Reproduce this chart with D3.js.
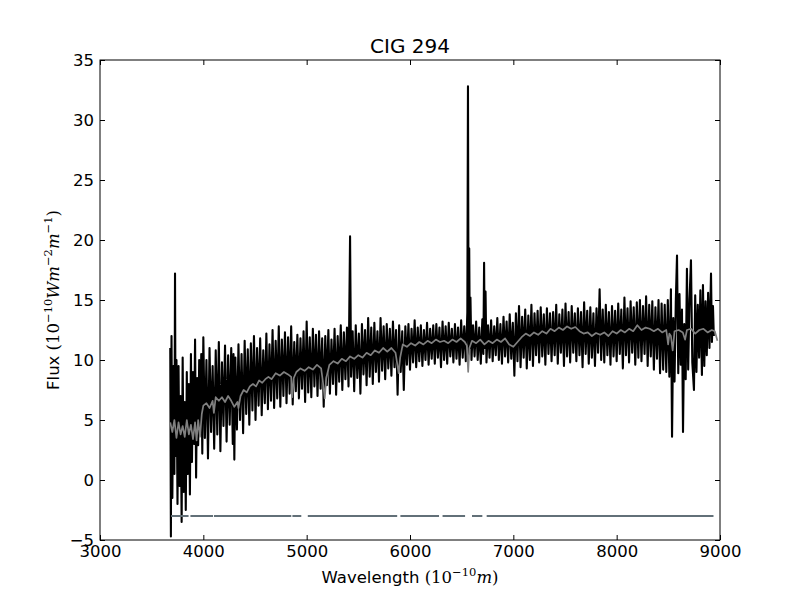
<!DOCTYPE html>
<html>
<head>
<meta charset="utf-8">
<script src="https://cdn.jsdelivr.net/npm/d3@7/dist/d3.min.js"></script>
<style>
  body { margin: 0; background: #fff; }
  svg text { font-family: "DejaVu Sans", sans-serif; }
  .math { font-family: "DejaVu Serif", serif; }
</style>
</head>
<body>
<div id="chart"></div>
<script>
// Observed spectrum, [wavelength, flux]
var spectrum = [
  [3680, 11.0], [3686, -4.7], [3692, 12.0], [3700, -1.5], [3710, 9.5], [3720, 0.5],
  [3726, 17.2], [3732, 2.0], [3740, 10.0], [3750, -2.0], [3760, 9.5], [3770, -0.5],
  [3780, 7.0], [3790, -3.5], [3800, 10.2], [3810, -1.0], [3820, 6.5], [3830, -2.5],
  [3840, 9.0], [3850, 0.5], [3860, 8.0], [3870, -1.2], [3880, 10.5], [3890, 1.5],
  [3900, 9.0], [3910, 3.0], [3920, 11.7], [3930, 0.2], [3940, 8.5], [3950, 2.9],
  [3960, 10.0], [3970, 4.0], [3980, 10.5], [3990, 2.2], [4000, 11.9], [4015, 3.5],
  [4030, 10.0], [4045, 1.8], [4060, 11.0], [4075, 4.0], [4090, 9.5], [4105, 2.6],
  [4120, 10.8], [4135, 3.8], [4150, 11.5], [4165, 2.4], [4180, 9.8], [4195, 4.5],
  [4210, 11.2], [4225, 3.2], [4240, 10.4], [4255, 4.6], [4270, 11.0], [4285, 3.0],
  [4292, 10.5], [4300, 1.7], [4310, 10.2], [4325, 4.2], [4340, 11.3], [4355, 5.0],
  [4370, 10.5], [4385, 3.9], [4400, 11.6], [4415, 5.5], [4430, 10.9], [4445, 4.6],
  [4460, 11.4], [4475, 5.8], [4490, 12.0], [4505, 5.0], [4520, 11.0], [4535, 6.2],
  [4550, 11.8], [4565, 5.4], [4580, 10.8], [4595, 6.4], [4610, 12.2], [4625, 5.9],
  [4640, 11.3], [4655, 6.6], [4670, 12.5], [4685, 6.0], [4700, 11.6], [4715, 6.8],
  [4730, 12.8], [4745, 6.1], [4760, 11.7], [4775, 7.0], [4790, 12.3], [4805, 6.4],
  [4820, 11.9], [4835, 7.2], [4850, 12.8], [4865, 6.3], [4880, 11.5], [4895, 7.4],
  [4910, 12.1], [4925, 6.8], [4940, 11.8], [4955, 7.6], [4970, 12.4], [4985, 6.5],
  [5000, 13.2], [5015, 7.3], [5030, 11.9], [5045, 6.9], [5060, 12.6], [5075, 7.8],
  [5090, 12.1], [5105, 7.0], [5120, 12.4], [5135, 7.6], [5150, 11.8], [5165, 6.1],
  [5180, 12.0], [5195, 7.9], [5210, 12.5], [5225, 7.2], [5240, 11.7], [5255, 8.0],
  [5270, 12.6], [5285, 7.1], [5300, 12.0], [5315, 8.2], [5330, 12.9], [5345, 7.5],
  [5360, 12.3], [5375, 8.4], [5390, 12.7], [5405, 7.8], [5420, 20.3], [5430, 8.6],
  [5445, 12.4], [5460, 7.4], [5475, 12.9], [5490, 8.5], [5505, 12.2], [5520, 7.2],
  [5535, 13.0], [5550, 8.8], [5565, 12.5], [5580, 7.9], [5595, 13.5], [5610, 8.6],
  [5625, 12.7], [5640, 8.0], [5655, 13.1], [5670, 9.0], [5685, 12.4], [5700, 8.2],
  [5715, 13.5], [5730, 9.1], [5745, 12.8], [5760, 8.4], [5775, 13.0], [5790, 9.3],
  [5805, 12.6], [5820, 8.7], [5835, 13.2], [5850, 9.4], [5865, 12.5], [5880, 7.1],
  [5895, 12.9], [5910, 9.0], [5925, 12.4], [5940, 7.5], [5955, 12.8], [5970, 9.6],
  [5985, 13.0], [6000, 9.2], [6015, 12.6], [6030, 9.8], [6045, 13.3], [6060, 9.4],
  [6075, 12.7], [6090, 9.9], [6105, 12.9], [6120, 9.5], [6135, 12.5], [6150, 10.0],
  [6165, 13.1], [6180, 9.6], [6195, 12.6], [6210, 10.1], [6225, 12.9], [6240, 9.7],
  [6255, 13.0], [6270, 10.2], [6285, 12.7], [6300, 9.4], [6315, 13.2], [6330, 10.0],
  [6345, 12.8], [6360, 9.7], [6375, 13.1], [6390, 10.3], [6405, 12.6], [6420, 9.8],
  [6435, 13.0], [6450, 10.1], [6465, 12.7], [6480, 9.6], [6495, 13.3], [6510, 10.2],
  [6525, 12.8], [6540, 9.9], [6555, 14.0], [6561, 32.8], [6567, 10.5], [6573, 19.3],
  [6579, 11.0], [6585, 15.2], [6595, 10.0], [6610, 12.9], [6625, 10.3], [6640, 13.2],
  [6655, 10.0], [6670, 12.7], [6685, 9.7], [6700, 13.4], [6710, 10.5], [6717, 18.1],
  [6723, 11.0], [6731, 15.7], [6740, 9.8], [6755, 12.9], [6770, 10.2], [6785, 13.3],
  [6800, 9.9], [6815, 12.8], [6830, 10.4], [6845, 13.5], [6860, 10.0], [6875, 13.0],
  [6890, 9.7], [6905, 13.6], [6920, 10.3], [6935, 13.2], [6950, 9.8], [6965, 13.8],
  [6980, 10.1], [6995, 13.1], [7010, 8.7], [7025, 13.9], [7040, 9.9], [7055, 14.5],
  [7070, 9.4], [7085, 13.6], [7100, 10.2], [7115, 14.2], [7130, 9.3], [7145, 13.7],
  [7160, 10.0], [7175, 14.6], [7190, 9.5], [7205, 13.9], [7220, 10.4], [7235, 14.1],
  [7250, 9.8], [7265, 14.4], [7280, 10.3], [7295, 13.8], [7310, 9.6], [7325, 14.3],
  [7340, 10.5], [7355, 13.9], [7370, 9.9], [7385, 14.0], [7400, 10.4], [7415, 14.6],
  [7430, 9.7], [7445, 13.8], [7460, 10.6], [7475, 14.2], [7490, 9.5], [7505, 14.7],
  [7520, 10.3], [7535, 14.0], [7550, 9.8], [7565, 14.5], [7580, 10.6], [7595, 13.9],
  [7610, 9.9], [7625, 14.3], [7640, 10.4], [7655, 14.0], [7670, 9.4], [7685, 14.8],
  [7700, 10.5], [7715, 14.1], [7730, 9.7], [7745, 14.4], [7760, 10.2], [7775, 13.9],
  [7790, 9.5], [7805, 14.3], [7820, 10.6], [7835, 15.9], [7850, 10.0], [7865, 14.2],
  [7880, 9.8], [7895, 14.6], [7910, 10.4], [7925, 14.0], [7940, 9.6], [7955, 14.5],
  [7970, 10.3], [7985, 14.1], [8000, 9.9], [8015, 14.7], [8030, 10.5], [8045, 14.2],
  [8060, 9.3], [8075, 15.2], [8090, 10.4], [8105, 14.3], [8120, 9.8], [8135, 14.9],
  [8150, 10.6], [8165, 14.4], [8180, 9.6], [8195, 14.8], [8210, 10.2], [8225, 15.0],
  [8240, 9.9], [8255, 14.5], [8270, 10.5], [8285, 15.3], [8300, 9.5], [8315, 14.6],
  [8330, 10.3], [8345, 14.9], [8360, 9.2], [8375, 14.4], [8390, 10.1], [8405, 15.0],
  [8420, 8.9], [8435, 14.7], [8450, 9.2], [8465, 14.6], [8480, 9.0], [8495, 15.0],
  [8510, 8.6], [8525, 15.9], [8536, 3.6], [8548, 13.5], [8560, 8.2], [8572, 14.8],
  [8584, 18.7], [8596, 8.9], [8608, 15.5], [8620, 9.6], [8632, 14.2], [8642, 4.0],
  [8654, 13.0], [8668, 8.4], [8680, 17.6], [8692, 9.2], [8705, 15.0], [8719, 18.3],
  [8732, 9.8], [8748, 7.5], [8760, 15.4], [8772, 9.0], [8785, 14.6], [8798, 10.2],
  [8810, 15.8], [8825, 8.75], [8835, 16.25], [8848, 9.5], [8860, 14.9], [8872, 10.4],
  [8885, 15.6], [8898, 11.0], [8913, 17.2], [8922, 11.5], [8932, 14.5], [8940, 12.0]
];

// Fitted model (grey), [wavelength, flux]
var model = [
  [3680, 4.8], [3700, 4.0], [3720, 5.0], [3740, 3.5], [3760, 4.8], [3780, 3.8],
  [3800, 4.5], [3820, 3.6], [3840, 5.0], [3860, 3.8], [3880, 4.6], [3900, 3.4],
  [3920, 4.8], [3935, 3.3], [3950, 5.0], [3968, 3.6], [3985, 5.5], [4000, 6.2],
  [4030, 6.4], [4060, 6.0], [4090, 6.6], [4102, 5.6], [4120, 6.9], [4150, 6.6],
  [4180, 6.9], [4210, 6.5], [4240, 7.0], [4270, 6.6], [4300, 6.1], [4330, 6.5],
  [4340, 6.0], [4360, 7.0], [4390, 7.5], [4420, 7.3], [4450, 7.8], [4480, 8.0],
  [4510, 7.8], [4540, 8.3], [4570, 8.1], [4600, 8.4], [4630, 8.6], [4660, 8.4],
  [4700, 8.9], [4740, 8.7], [4780, 9.0], [4820, 8.8], [4850, 8.6], [4861, 6.9],
  [4875, 8.5], [4900, 9.0], [4940, 9.3], [4980, 9.1], [5020, 9.4], [5060, 9.2],
  [5100, 9.6], [5140, 9.3], [5160, 8.0], [5175, 6.8], [5190, 8.5], [5220, 9.6],
  [5260, 9.9], [5300, 9.7], [5340, 10.1], [5380, 9.9], [5420, 10.3], [5460, 10.1],
  [5500, 10.4], [5540, 10.2], [5580, 10.6], [5620, 10.4], [5660, 10.8], [5700, 10.6],
  [5740, 11.0], [5780, 10.7], [5820, 11.0], [5860, 10.6], [5878, 9.6], [5890, 8.9],
  [5905, 10.2], [5930, 11.3], [5970, 11.1], [6010, 11.4], [6050, 11.2], [6090, 11.5],
  [6130, 11.3], [6170, 11.6], [6210, 11.4], [6250, 11.7], [6290, 11.5], [6330, 11.6],
  [6370, 11.4], [6410, 11.7], [6450, 11.5], [6490, 11.8], [6530, 11.5], [6550, 11.2],
  [6563, 9.0], [6575, 11.0], [6600, 11.6], [6640, 11.4], [6680, 11.7], [6720, 11.3],
  [6760, 11.6], [6800, 11.4], [6840, 11.7], [6880, 11.5], [6920, 11.8], [6960, 11.3],
  [7000, 11.1], [7040, 11.5], [7080, 11.9], [7120, 12.2], [7160, 12.0], [7200, 12.3],
  [7240, 12.1], [7280, 12.4], [7320, 12.2], [7360, 12.6], [7400, 12.4], [7440, 12.7],
  [7480, 12.5], [7520, 12.8], [7560, 12.6], [7600, 12.75], [7640, 12.4], [7680, 12.2],
  [7720, 12.3], [7760, 12.0], [7800, 12.25], [7840, 12.1], [7880, 12.3], [7920, 12.0],
  [7960, 12.4], [8000, 12.2], [8040, 12.5], [8080, 12.3], [8120, 12.6], [8160, 12.4],
  [8200, 12.9], [8240, 12.5], [8280, 12.7], [8320, 12.6], [8360, 12.4], [8400, 12.6],
  [8440, 12.3], [8480, 12.5], [8498, 11.3], [8510, 12.2], [8525, 12.0], [8542, 10.8],
  [8560, 12.4], [8600, 12.5], [8640, 12.3], [8662, 11.7], [8680, 12.5], [8720, 12.6],
  [8760, 12.2], [8800, 12.5], [8840, 12.6], [8880, 12.3], [8920, 12.5], [8950, 12.4],
  [8975, 11.6]
];

// Good-pixel mask drawn at a constant level, [start, end] wavelengths
var maskLevel = -3;
var maskSegments = [
  [3688, 3857], [3875, 4094], [4103, 4851], [4862, 4948], [5011, 5876],
  [5907, 6281], [6315, 6533], [6600, 6700], [6742, 8937]
];

var xTicks = [3000, 4000, 5000, 6000, 7000, 8000, 9000];
var yTicks = [-5, 0, 5, 10, 15, 20, 25, 30, 35];

var W = 800, H = 600;
var margin = { left: 100, top: 60, right: 80, bottom: 60 };
var plotW = W - margin.left - margin.right;
var plotH = H - margin.top - margin.bottom;
var TICK = 5;

var svg = d3.select('#chart')
  .append('svg')
  .attr('width', W)
  .attr('height', H);

var x = d3.scaleLinear().domain([3000, 9000]).range([0, plotW]);
var y = d3.scaleLinear().domain([-5, 35]).range([plotH, 0]);

var g = svg.append('g')
  .attr('transform', 'translate(' + margin.left + ',' + margin.top + ')');

g.append('clipPath').attr('id', 'clip')
  .append('rect').attr('width', plotW).attr('height', plotH);

var plot = g.append('g').attr('clip-path', 'url(#clip)');

var line = d3.line()
  .x(function(d) { return x(d[0]); })
  .y(function(d) { return y(d[1]); });

plot.append('path')
  .datum(spectrum)
  .attr('d', line)
  .attr('fill', 'none')
  .attr('stroke', '#000')
  .attr('stroke-width', 2.1)
  .attr('stroke-linejoin', 'round');

plot.selectAll('.mask')
  .data(maskSegments)
  .enter().append('line')
  .attr('class', 'mask')
  .attr('x1', function(d) { return x(d[0]); })
  .attr('x2', function(d) { return x(d[1]); })
  .attr('y1', y(maskLevel))
  .attr('y2', y(maskLevel))
  .attr('stroke', '#627078')
  .attr('stroke-width', 2);

plot.append('path')
  .datum(model)
  .attr('d', line)
  .attr('fill', 'none')
  .attr('stroke', '#808080')
  .attr('stroke-width', 1.7)
  .attr('stroke-linejoin', 'round');

// Axes: ticks pointing inward on all four sides
function styleAxis(sel) {
  sel.select('.domain').remove();
  sel.selectAll('.tick line').attr('stroke', '#000').attr('stroke-width', 1);
  sel.selectAll('.tick text')
    .attr('font-family', '"DejaVu Sans", sans-serif')
    .attr('font-size', 16.5)
    .attr('fill', '#000');
}

g.append('g')
  .attr('transform', 'translate(0,' + plotH + ')')
  .call(d3.axisBottom(x).tickValues(xTicks).tickFormat(d3.format('d'))
    .tickSizeInner(-TICK).tickSizeOuter(0).tickPadding(5))
  .call(styleAxis);

g.append('g')
  .call(d3.axisTop(x).tickValues(xTicks).tickFormat('')
    .tickSizeInner(-TICK).tickSizeOuter(0))
  .call(styleAxis);

g.append('g')
  .call(d3.axisLeft(y).tickValues(yTicks).tickFormat(d3.format('d'))
    .tickSizeInner(-TICK).tickSizeOuter(0).tickPadding(6))
  .call(styleAxis);

g.append('g')
  .attr('transform', 'translate(' + plotW + ',0)')
  .call(d3.axisRight(y).tickValues(yTicks).tickFormat('')
    .tickSizeInner(-TICK).tickSizeOuter(0))
  .call(styleAxis);

g.append('rect')
  .attr('width', plotW)
  .attr('height', plotH)
  .attr('fill', 'none')
  .attr('stroke', '#000')
  .attr('stroke-width', 1);

// Title
svg.append('text')
  .attr('x', margin.left + plotW / 2)
  .attr('y', 53)
  .attr('text-anchor', 'middle')
  .attr('font-size', 20)
  .text('CIG 294');

// X label: Wavelength (10^-10 m)
var xl = svg.append('text')
  .attr('x', margin.left + plotW / 2)
  .attr('y', 583)
  .attr('text-anchor', 'middle')
  .attr('font-size', 16.5);
xl.append('tspan').text('Wavelength ');
xl.append('tspan').attr('class', 'math').text('(10');
xl.append('tspan').attr('class', 'math').attr('font-size', 11.5).attr('dy', -7).text('\u221210');
xl.append('tspan').attr('class', 'math').attr('font-style', 'italic').attr('dy', 7).text('m');
xl.append('tspan').attr('class', 'math').text(')');

// Y label: Flux (10^-10 W m^-2 m^-1)
var yl = svg.append('text')
  .attr('transform', 'translate(59,' + (margin.top + plotH / 2) + ') rotate(-90)')
  .attr('text-anchor', 'middle')
  .attr('font-size', 16.5);
yl.append('tspan').text('Flux ');
yl.append('tspan').attr('class', 'math').text('(10');
yl.append('tspan').attr('class', 'math').attr('font-size', 11.5).attr('dy', -7).text('\u221210');
yl.append('tspan').attr('class', 'math').attr('font-style', 'italic').attr('dy', 7).text('Wm');
yl.append('tspan').attr('class', 'math').attr('font-size', 11.5).attr('dy', -7).text('\u22122');
yl.append('tspan').attr('class', 'math').attr('font-style', 'italic').attr('dy', 7).text('m');
yl.append('tspan').attr('class', 'math').attr('font-size', 11.5).attr('dy', -7).text('\u22121');
yl.append('tspan').attr('class', 'math').attr('dy', 7).text(')');
</script>
</body>
</html>
